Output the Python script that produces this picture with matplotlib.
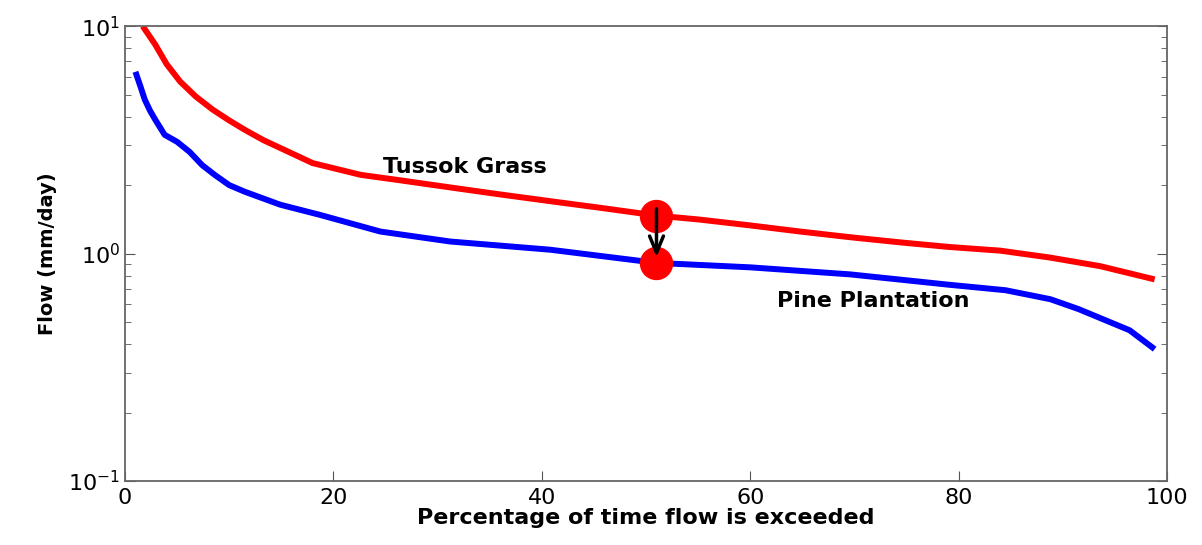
import matplotlib.pyplot as plt
import numpy as np

# flow duration curves
tussock_pct = [1.7, 2.9, 4.0, 5.3, 6.8, 8.4, 10.0, 11.5, 13.3, 15.2, 18.0, 22.6, 26.4, 31.0, 36.0, 40.8, 45.6, 51.0, 55.2, 60.0, 64.8, 69.6, 74.4, 79.0, 84.0, 88.8, 93.6, 98.8]
tussock_flow = [10.0, 8.3, 6.8, 5.7, 4.9, 4.3, 3.85, 3.5, 3.15, 2.87, 2.5, 2.22, 2.1, 1.96, 1.82, 1.7, 1.59, 1.47, 1.41, 1.33, 1.25, 1.18, 1.12, 1.07, 1.03, 0.96, 0.88, 0.77]

pine_pct = [1.0, 1.5, 1.9, 2.4, 2.9, 3.8, 5.0, 6.2, 7.4, 8.6, 10.0, 11.5, 14.9, 18.7, 24.5, 31.2, 40.8, 51.0, 60.0, 69.6, 79.0, 84.5, 88.8, 91.5, 93.6, 96.4, 98.8]
pine_flow = [6.3, 5.4, 4.75, 4.25, 3.88, 3.33, 3.1, 2.8, 2.45, 2.22, 2.0, 1.87, 1.64, 1.48, 1.25, 1.13, 1.04, 0.91, 0.87, 0.81, 0.73, 0.69, 0.63, 0.57, 0.52, 0.46, 0.38]

change_pct = 51.0
change_from = 1.47
change_to = 0.91

fig = plt.figure(figsize=(12.02, 5.45), dpi=100)
ax = fig.add_axes([0.104, 0.1174, 0.867, 0.8346])

ax.plot(tussock_pct, tussock_flow, color='#ff0000', lw=4.3, solid_capstyle='butt')
ax.plot(pine_pct, pine_flow, color='#0000ff', lw=4.3, solid_capstyle='butt')

ax.plot([change_pct, change_pct], [change_from, change_to], 'o', color='#ff0000', ms=23, zorder=3)
ax.annotate('', xy=(change_pct, change_to * 1.03), xytext=(change_pct, change_from * 1.1),
            arrowprops=dict(arrowstyle='->,head_width=0.5,head_length=1.2', color='black', lw=2.5),
            zorder=4)

ax.text(32.6, 2.41, 'Tussok Grass', fontsize=16, fontweight='bold', ha='center', va='center')
ax.text(71.8, 0.62, 'Pine Plantation', fontsize=16, fontweight='bold', ha='center', va='center')

ax.set_yscale('log')
ax.set_xlim(0, 100)
ax.set_ylim(0.1, 10)
ax.set_xticks([0, 20, 40, 60, 80, 100])
ax.tick_params(which='both', direction='in', top=True, right=True, labelsize=16, color='#555555')
ax.tick_params(which='major', length=7)
ax.tick_params(which='minor', length=4)
ax.tick_params(axis='x', which='both', top=False, pad=5)
for s in ax.spines.values():
    s.set_color('#666666')
    s.set_linewidth(1.3)

ax.set_xlabel('Percentage of time flow is exceeded', fontsize=16, fontweight='bold', labelpad=0)
ax.set_ylabel('Flow (mm/day)', fontsize=14, fontweight='bold', labelpad=8)

fig.savefig('out.png', dpi=100)
